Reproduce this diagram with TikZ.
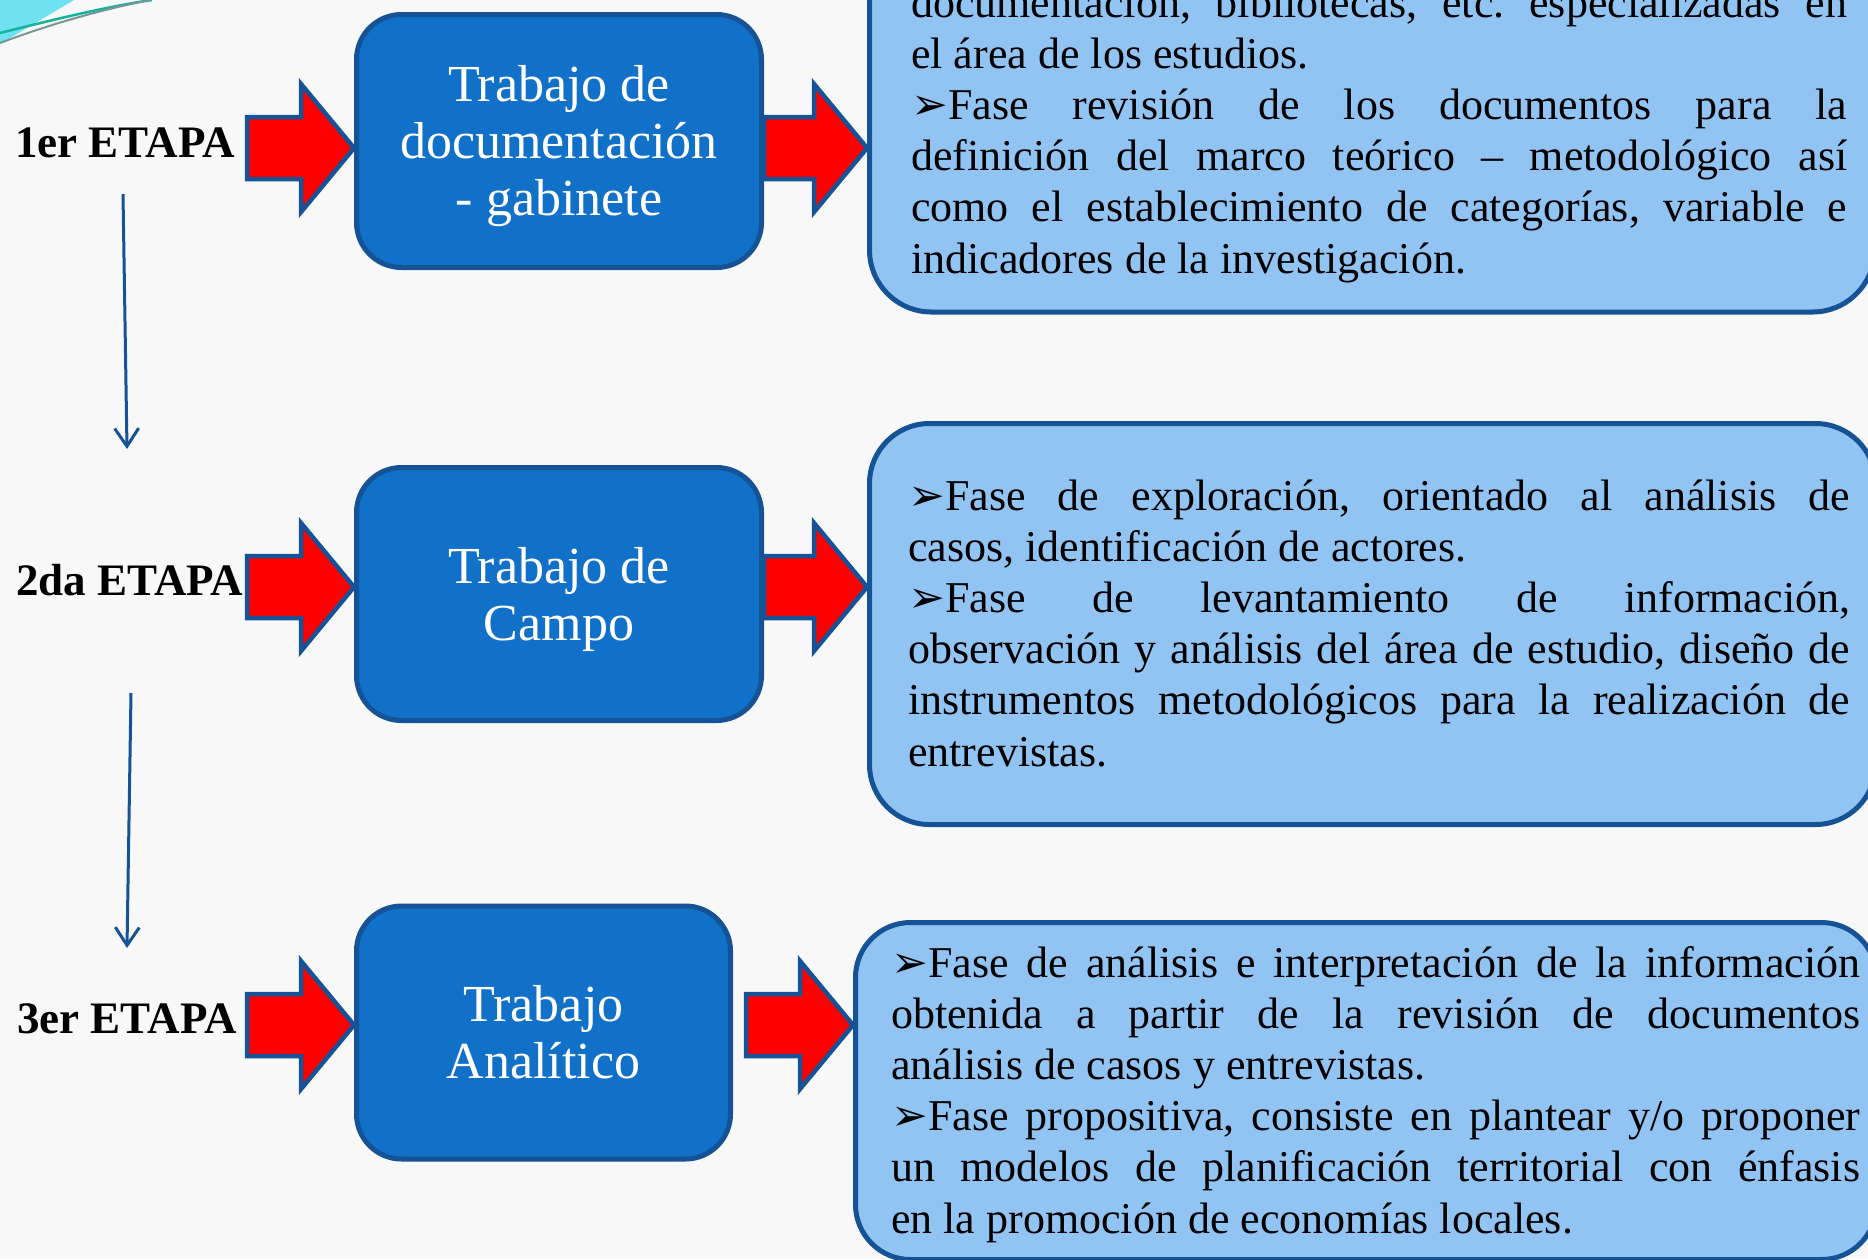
\documentclass[tikz,border=0pt]{standalone}
\usepackage{fontspec}
\setmainfont{Liberation Serif}
\newfontfamily\symfont[Scale=1.0]{DejaVu Sans}
\usetikzlibrary{calc,arrows.meta}
\definecolor{bg}{RGB}{248,248,248}
\definecolor{dkfill}{RGB}{17,112,199}
\definecolor{dkline}{RGB}{22,82,150}
\definecolor{ltfill}{RGB}{146,196,243}
\definecolor{cyandeco}{RGB}{110,226,240}
\definecolor{tealdeco}{RGB}{22,178,158}
\definecolor{greydeco}{RGB}{120,150,150}
\newcommand\bul{{\symfont ➢}}
\newcommand\fatarrow[2]{%
  \draw[fatarr] let \p1=(#1), \p2=(#2) in
    (\x1,\y1+31pt) -- (\x2-53pt,\y1+31pt) -- (\x2-53pt,\y1+64pt) -- (\x2,\y1)
    -- (\x2-53pt,\y1-64pt) -- (\x2-53pt,\y1-31pt) -- (\x1,\y1-31pt) -- cycle;}
\tikzset{
  darkbox/.style={draw=dkline, fill=dkfill, line width=5pt, rounded corners=45pt,
    minimum width=405pt, minimum height=253pt, text=white, align=center,
    font=\fontsize{52}{57}\selectfont, inner sep=0pt},
  lightbox/.style={draw=dkline, fill=ltfill, line width=5pt, inner sep=0pt},
  bodytext/.style={align=justify, anchor=base west, inner sep=0pt,
    font=\fontsize{44}{51.2}\selectfont\frenchspacing},
  etapa/.style={font=\bfseries\fontsize{45}{50}\selectfont, anchor=base west, inner sep=0pt},
  fatarr/.style={fill=red, draw=dkline, line width=4.5pt, line join=miter},
  vconn/.style={draw=dkline, line width=3pt, -{Straight Barb[length=18pt,width=24pt]}}
}
\begin{document}
\begin{tikzpicture}[x=1pt,y=-1pt]
\path[use as bounding box, fill=bg] (0,0) rectangle (1868,1259);
\clip (0,0) rectangle (1868,1259);
% decoration top-left
\fill[cyandeco] (0,0) -- (74,0) -- (0,44) -- cycle;
\draw[tealdeco, line width=2.5pt] (0,33) .. controls (60,18) and (110,6) .. (152,0);
\draw[greydeco, line width=2pt] (0,43) .. controls (40,28) and (90,12) .. (150,0);

% dark boxes
\node[darkbox, text height=160pt] (b1) at (559,141) {Trabajo de\\documentación\\- gabinete};
\node[darkbox, text height=104pt] (b2) at (559,594) {Trabajo de\\Campo};
\node[darkbox, minimum width=374pt] (b3) at (543.5,1032.5) {Trabajo\\Analítico};

% light boxes
\node[lightbox, rounded corners=62pt, minimum width=1005pt, minimum height=390pt] (r1) at (1372,117) {};
\node[lightbox, rounded corners=60pt, minimum width=1006pt, minimum height=401pt] (r2) at (1372.5,624) {};
\node[lightbox, rounded corners=55pt, minimum width=1021pt, minimum height=337pt] (r3) at (1366,1091) {};

% texts
\node[bodytext, text width=936pt] (t1) at (911,17) {documentación, bibliotecas, etc. especializadas en\linebreak el área de los estudios.\par
\bul Fase revisión de los documentos para la\linebreak definición del marco teórico – metodológico así\linebreak como el establecimiento de categorías, variable e\linebreak indicadores de la investigación.};
\node[bodytext, text width=942pt] (t2) at (908,510) {\bul Fase de exploración, orientado al análisis de\linebreak casos, identificación de actores.\par
\bul Fase de levantamiento de información,\linebreak observación y análisis del área de estudio, diseño de\linebreak instrumentos metodológicos para la realización de\linebreak entrevistas.};
\node[bodytext, text width=969pt] (t3) at (891,977) {\bul Fase de análisis e interpretación de la información\linebreak obtenida a partir de la revisión de documentos\linebreak análisis de casos y entrevistas.\par
\bul Fase propositiva, consiste en plantear y/o proponer\linebreak un modelos de planificación territorial con énfasis\linebreak en la promoción de economías locales.};

% stage labels
\node[etapa] (e1) at (15,157) {1er ETAPA};
\node[etapa] (e2) at (16,595) {2da ETAPA};
\node[etapa] (e3) at (17,1033) {3er ETAPA};

% fat arrows
\coordinate (a1) at (247,148);
\coordinate (a2) at (247,587);
\coordinate (a3) at (247,1025);
\coordinate (a3r) at ($(b3.east |- a3)+(13,0)$);
\fatarrow{a1}{b1.west |- a1}
\fatarrow{b1.east |- a1}{r1.west |- a1}
\fatarrow{a2}{b2.west |- a2}
\fatarrow{b2.east |- a2}{r2.west |- a2}
\fatarrow{a3}{b3.west |- a3}
\fatarrow{a3r}{r3.west |- a3}

% vertical connectors
\coordinate (v1s) at (123,194);
\coordinate (v1e) at (127,449);
\coordinate (v2s) at (131,693);
\coordinate (v2e) at (127,948);
\draw[vconn] (v1s) -- (v1e);
\draw[vconn] (v2s) -- (v2e);
\end{tikzpicture}
\end{document}
